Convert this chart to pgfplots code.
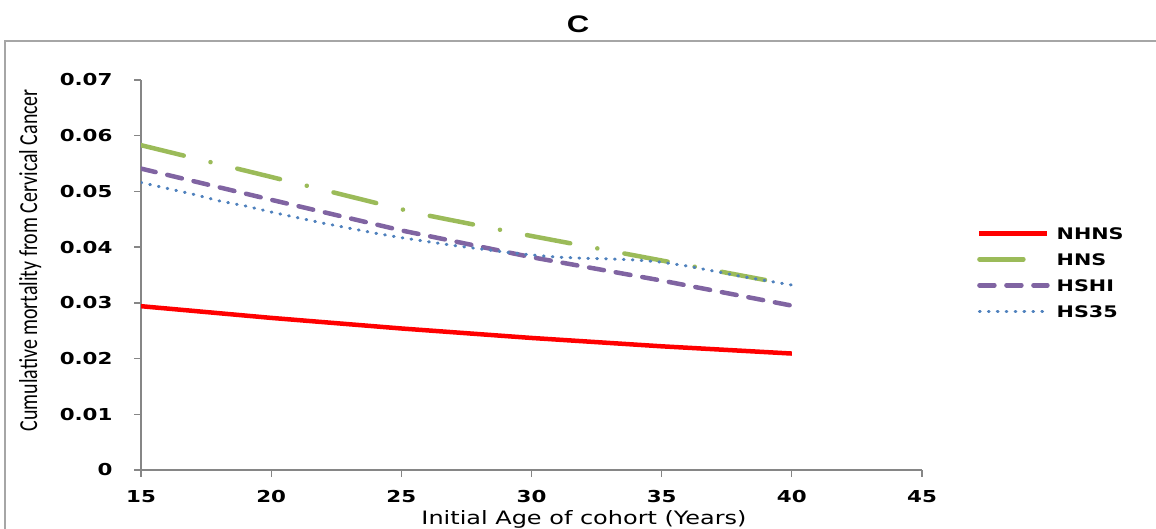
\documentclass[border=0pt]{standalone}
\usepackage{fontspec}
\usepackage{pgfplots}
\pgfplotsset{compat=1.18}
\usepackage{graphicx}
\newfontfamily\tickfont[FakeStretch=1.3]{DejaVu Sans}
\newfontfamily\ylabfont{Carlito}
\newfontfamily\titlefont[FakeStretch=1.3]{Liberation Sans}
\definecolor{cRed}{HTML}{FF0000}
\definecolor{cGreen}{HTML}{9BBB59}
\definecolor{cPurple}{HTML}{8064A2}
\definecolor{cBlue}{HTML}{4F81BD}
\definecolor{axgray}{HTML}{868686}
\definecolor{framegray}{HTML}{A6A6A6}
\begin{document}
\begin{tikzpicture}[x=1bp,y=1bp]
\path[use as bounding box] (0,0) rectangle (1156,529);
\draw[framegray, line width=2.5bp] (5,-5) -- (5,488) -- (1170,488);
\node[font=\titlefont\bfseries\fontsize{24}{26}\selectfont] at (578,505) {C};
\begin{axis}[
  at={(141bp,59bp)}, anchor=south west, scale only axis,
  width=781bp, height=390bp,
  xmin=15, xmax=45, ymin=0, ymax=0.07,
  axis x line=bottom, axis y line=left,
  axis line style={axgray, line width=1.3bp, -},
  xtick={15,20,25,30,35,40,45},
  ytick={0,0.01,0.02,0.03,0.04,0.05,0.06,0.07},
  yticklabels={0,0.01,0.02,0.03,0.04,0.05,0.06,0.07},
  scaled y ticks=false,
  tick style={axgray, line width=1.3bp},
  tick align=outside, major tick length=7bp,
  /pgf/number format/assume math mode=true,
  ticklabel style={font=\tickfont\bfseries\fontsize{16.5}{18}\selectfont},
  yticklabel style={xshift=-18bp},
  xticklabel style={yshift=-10bp},
  xlabel={Initial Age of cohort (Years)},
  xlabel style={at={(axis description cs:0.5672,-0.126)}, anchor=center, font=\tickfont\fontsize{18.5}{20}\selectfont},
  ylabel={\scalebox{1}[1.3]{Cumulative mortality from Cervical Cancer}},
  ylabel style={at={(axis description cs:-0.142,0.538)}, anchor=center, font=\ylabfont\fontsize{20}{22}\selectfont},
  legend image code/.code={\draw[#1] (0bp,0bp) -- (68bp,0bp);},
  legend cell align=left,
  legend style={draw=none, fill=none, at={(axis description cs:1.0704,0.628)}, anchor=north west,
    font=\tickfont\bfseries\fontsize{16}{18}\selectfont, inner sep=0pt, row sep=10bp, column sep=5bp,
    nodes={text height=12bp, text depth=0bp, inner sep=2bp}},
]
\addplot[cRed, line width=4.5bp] coordinates {
(15,0.0294) (20,0.0273) (25,0.0254) (30,0.0237) (35,0.0222) (40,0.0209)};
\addlegendentry{NHNS}
\addplot[cGreen, line width=4.5bp, line cap=round, dash pattern=on 44bp off 27.5bp on 0.1bp off 27.5bp] coordinates {
(15,0.0583) (20,0.0526) (25,0.0468) (26,0.0457) (30,0.0420) (35,0.0376) (40,0.0332)};
\addlegendentry{HNS}
\addplot[cPurple, line width=4.5bp, line cap=round, dash pattern=on 15bp off 12bp] coordinates {
(15,0.0541) (20,0.0485) (25,0.0430) (30,0.0382) (35,0.0340) (40,0.0295)};
\addlegendentry{HSHI}
\addplot[cBlue, line width=3bp, line cap=round, dash pattern=on 0.8bp off 8.1bp] coordinates {
(15,0.0516) (17,0.0495) (18,0.0483) (19,0.0474) (20,0.0463) (21,0.0453) (22,0.0443) (23,0.0434) (24,0.0425) (25,0.0417) (26,0.0410) (27,0.0403) (28,0.0397) (29,0.0391) (30,0.0386) (31,0.0382) (32,0.0380) (33,0.0379) (34,0.0377) (35,0.0373) (36,0.0366) (37,0.0357) (38,0.0348) (39,0.0340) (40,0.0332)};
\addlegendentry{HS35}
\end{axis}
\end{tikzpicture}
\end{document}
